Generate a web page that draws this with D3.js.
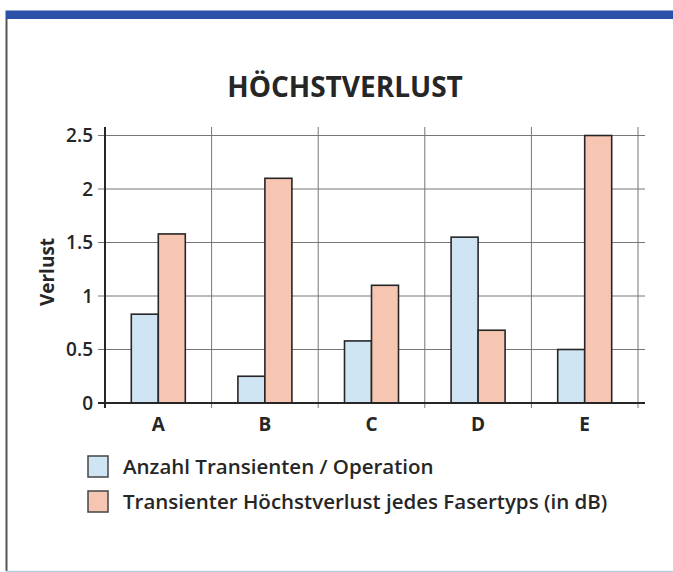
<!DOCTYPE html>
<html lang="de">
<head>
<meta charset="UTF-8">
<title>Höchstverlust</title>
<script src="https://d3js.org/d3.v7.min.js"></script>
<style>
  body { margin: 0; background: #fff; }
  svg { display: block; font-family: "Open Sans", "Noto Sans", sans-serif; }
</style>
</head>
<body>
<svg id="chart" width="673" height="572"></svg>
<script>
  // data
  const categories = ["A", "B", "C", "D", "E"];
  const seriesNames = ["Anzahl Transienten / Operation", "Transienter Höchstverlust jedes Fasertyps (in dB)"];
  const transienten = [0.83, 0.25, 0.58, 1.55, 0.50];
  const hoechstverlust = [1.58, 2.10, 1.10, 0.68, 2.50];
  const yTicks = [0, 0.5, 1, 1.5, 2, 2.5];
  const colors = ["#cfe5f3", "#f6c6b3"];

  const svg = d3.select("#chart");
  const ink = "#262626";

  // frame
  svg.append("rect").attr("x", 5.5).attr("y", 10.5).attr("width", 668).attr("height", 8.5).attr("fill", "#2b50a8");
  svg.append("line").attr("x1", 6.5).attr("x2", 6.5).attr("y1", 19).attr("y2", 571).attr("stroke", "#555").attr("stroke-width", 2);
  svg.append("line").attr("x1", 6).attr("x2", 673).attr("y1", 571.5).attr("y2", 571.5).attr("stroke", "#b8cde0").attr("stroke-width", 1.5);

  const plotL = 105, plotR = 638, plotT = 135.5, plotB = 403;

  const x = d3.scaleBand().domain(categories).range([plotL, plotR]);
  const y = d3.scaleLinear().domain([0, 2.5]).range([plotB, plotT]);
  const inner = d3.scaleBand().domain([0, 1]).range([0, 54]);
  const barOffset = (x.bandwidth() - 54) / 2;

  // title
  svg.append("text").attr("x", 345).attr("y", 96.5).attr("text-anchor", "middle")
    .attr("font-size", 28).attr("font-weight", 700).attr("fill", ink).text("HÖCHSTVERLUST");

  // grid
  const grid = svg.append("g").attr("stroke", "#777").attr("stroke-width", 1);
  grid.selectAll("line.h").data(yTicks.slice(1)).join("line")
    .attr("x1", plotL - 7).attr("x2", 645).attr("y1", d => y(d)).attr("y2", d => y(d));
  grid.selectAll("line.v").data(categories).join("line")
    .attr("x1", d => x(d) + x.bandwidth()).attr("x2", d => x(d) + x.bandwidth())
    .attr("y1", 127).attr("y2", plotB + 5);

  // bars
  const data = categories.map((c, i) => ({ cat: c, vals: [transienten[i], hoechstverlust[i]] }));
  const groups = svg.append("g").selectAll("g").data(data).join("g")
    .attr("transform", d => `translate(${x(d.cat) + barOffset},0)`);
  groups.selectAll("rect").data(d => d.vals.map((v, k) => ({ v, k }))).join("rect")
    .attr("x", d => inner(d.k)).attr("width", inner.bandwidth())
    .attr("y", d => y(d.v)).attr("height", d => y(0) - y(d.v))
    .attr("fill", d => colors[d.k]).attr("stroke", ink).attr("stroke-width", 1.6);

  // axes lines
  svg.append("line").attr("x1", plotL).attr("x2", plotL).attr("y1", 127).attr("y2", plotB + 5)
    .attr("stroke", ink).attr("stroke-width", 2);
  svg.append("line").attr("x1", plotL - 7).attr("x2", 645).attr("y1", plotB).attr("y2", plotB)
    .attr("stroke", ink).attr("stroke-width", 2);

  // y tick labels
  svg.append("g").selectAll("text").data(yTicks).join("text")
    .attr("x", 93).attr("y", d => y(d)).attr("dy", "0.36em").attr("text-anchor", "end")
    .attr("font-size", 19).attr("font-weight", 600).attr("fill", ink).text(d => d);

  svg.append("text").attr("transform", "translate(54,272) rotate(-90)").attr("text-anchor", "middle")
    .attr("font-size", 19).attr("font-weight", 700).attr("fill", ink).text("Verlust");

  // x labels
  svg.append("g").selectAll("text").data(categories).join("text")
    .attr("x", d => x(d) + x.bandwidth() / 2).attr("y", 431).attr("text-anchor", "middle")
    .attr("font-size", 19).attr("font-weight", 700).attr("fill", ink).text(d => d);

  // legend
  const legend = svg.append("g").selectAll("g").data(seriesNames).join("g")
    .attr("transform", (d, i) => `translate(88,${456 + i * 35})`);
  legend.append("rect").attr("width", 20).attr("height", 21)
    .attr("fill", (d, i) => colors[i]).attr("stroke", "#444").attr("stroke-width", 1.5);
  legend.append("text").attr("x", 35).attr("y", 17.5).attr("font-size", 20.5).attr("font-weight", 600)
    .attr("fill", ink).text(d => d);
</script>
</body>
</html>
